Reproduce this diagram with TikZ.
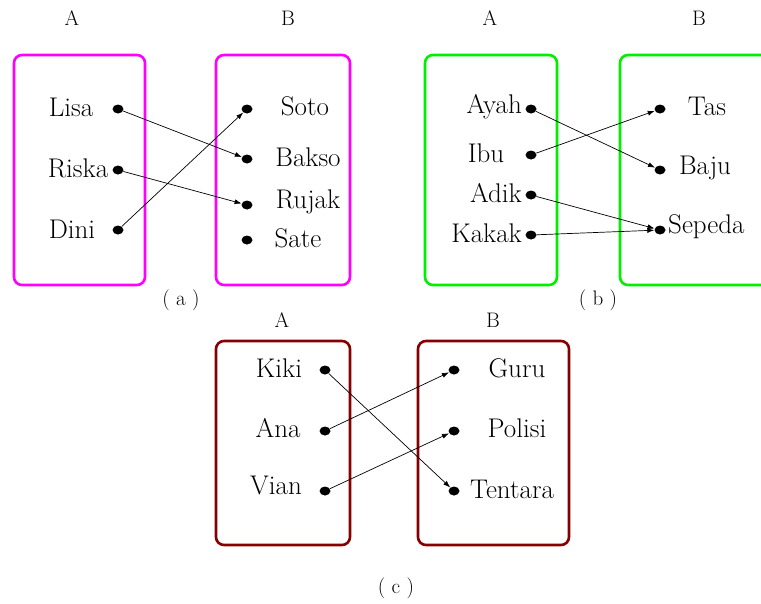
\documentclass[tikz,border=0pt]{standalone}
\usepackage{fontspec}
\usetikzlibrary{arrows.meta,shapes.geometric}
\definecolor{mag}{RGB}{255,0,255}
\definecolor{grn}{RGB}{0,240,0}
\definecolor{drd}{RGB}{135,0,0}
\tikzset{
  setbox/.style={rounded corners=8pt,line width=2.6pt},
  dotpt/.style={ellipse,fill=black,inner sep=0pt,minimum width=11pt,minimum height=9pt},
  item/.style={font=\fontsize{27}{32}\selectfont,inner sep=0pt},
  lbl/.style={font=\fontsize{21}{24}\selectfont,inner sep=0pt},
  map/.style={line width=0.7pt,-{Latex[length=7pt,width=5pt]}}
}
\begin{document}
\begin{tikzpicture}[x=1pt,y=-1pt]
\clip (0,0) rectangle (761,603);
\fill[white] (0,0) rectangle (761,603);
% ---------- (a)
\draw[setbox,mag] (14,55) rectangle (145,285);
\draw[setbox,mag] (216,55) rectangle (350,285);
\node[lbl] (aA) at (72,18) {A};
\node[lbl] (aB) at (288,18) {B};
\node[item] (tLisa) at (71,107) {Lisa};
\node[item] (tRiska) at (78,168) {Riska};
\node[item] (tDini) at (72,229) {Dini};
\node[dotpt] (dLisa) at (118,109) {};
\node[dotpt] (dRiska) at (118,170) {};
\node[dotpt] (dDini) at (118,230) {};
\node[dotpt] (dSoto) at (247,109) {};
\node[dotpt] (dBakso) at (247,159) {};
\node[dotpt] (dRujak) at (247,205) {};
\node[dotpt] (dSate) at (247,240) {};
\node[item] (tSoto) at (305,106) {Soto};
\node[item] (tBakso) at (308,157) {Bakso};
\node[item] (tRujak) at (308,202) {Rujak};
\node[item] (tSate) at (298,238) {Sate};
\draw[map] (dLisa) -- (dBakso);
\draw[map] (dRiska) -- (dRujak);
\draw[map] (dDini) -- (dSoto);
\node[lbl] (capa) at (181,300) {( a )};
% ---------- (b)
\draw[setbox,grn] (425,55) rectangle (557,285);
\draw[setbox,grn] (620,55) rectangle (800,285);
\node[lbl] (bA) at (490,18) {A};
\node[lbl] (bB) at (699,18) {B};
\node[item,anchor=east] (tAyah) at (522,107) {Ayah};
\node[item] (tIbu) at (486,153) {Ibu};
\node[item,anchor=east] (tAdik) at (522,193) {Adik};
\node[item,anchor=east] (tKakak) at (522,233) {Kakak};
\node[dotpt] (dAyah) at (531,109) {};
\node[dotpt] (dIbu) at (531,155) {};
\node[dotpt] (dAdik) at (531,195) {};
\node[dotpt] (dKakak) at (531,235) {};
\node[dotpt] (dTas) at (660,109) {};
\node[dotpt] (dBaju) at (660,170) {};
\node[dotpt] (dSepeda) at (660,230) {};
\node[item] (tTas) at (707,106) {Tas};
\node[item] (tBaju) at (705,168) {Baju};
\node[item,anchor=west] (tSepeda) at (668,227) {Sepeda};
\draw[map] (dAyah) -- (dBaju);
\draw[map] (dIbu) -- (dTas);
\draw[map] (dAdik) -- (dSepeda);
\draw[map] (dKakak) -- (dSepeda);
\node[lbl] (capb) at (598,300) {( b )};
% ---------- (c)
\draw[setbox,drd] (216,341) rectangle (350,545);
\draw[setbox,drd] (418,341) rectangle (569,545);
\node[lbl] (cA) at (282,320) {A};
\node[lbl] (cB) at (493,320) {B};
\node[item] (tKiki) at (279,368) {Kiki};
\node[item] (tAna) at (278,428) {Ana};
\node[item] (tVian) at (276,485) {Vian};
\node[dotpt] (dKiki) at (325,370) {};
\node[dotpt] (dAna) at (325,431) {};
\node[dotpt] (dVian) at (325,491) {};
\node[dotpt] (dGuru) at (454,370) {};
\node[dotpt] (dPolisi) at (454,431) {};
\node[dotpt] (dTentara) at (454,491) {};
\node[item] (tGuru) at (517,368) {Guru};
\node[item] (tPolisi) at (517,428) {Polisi};
\node[item] (tTentara) at (512,489) {Tentara};
\draw[map] (dKiki) -- (dTentara);
\draw[map] (dAna) -- (dGuru);
\draw[map] (dVian) -- (dPolisi);
\node[lbl] (capc) at (396,588) {( c )};
\end{tikzpicture}
\end{document}
